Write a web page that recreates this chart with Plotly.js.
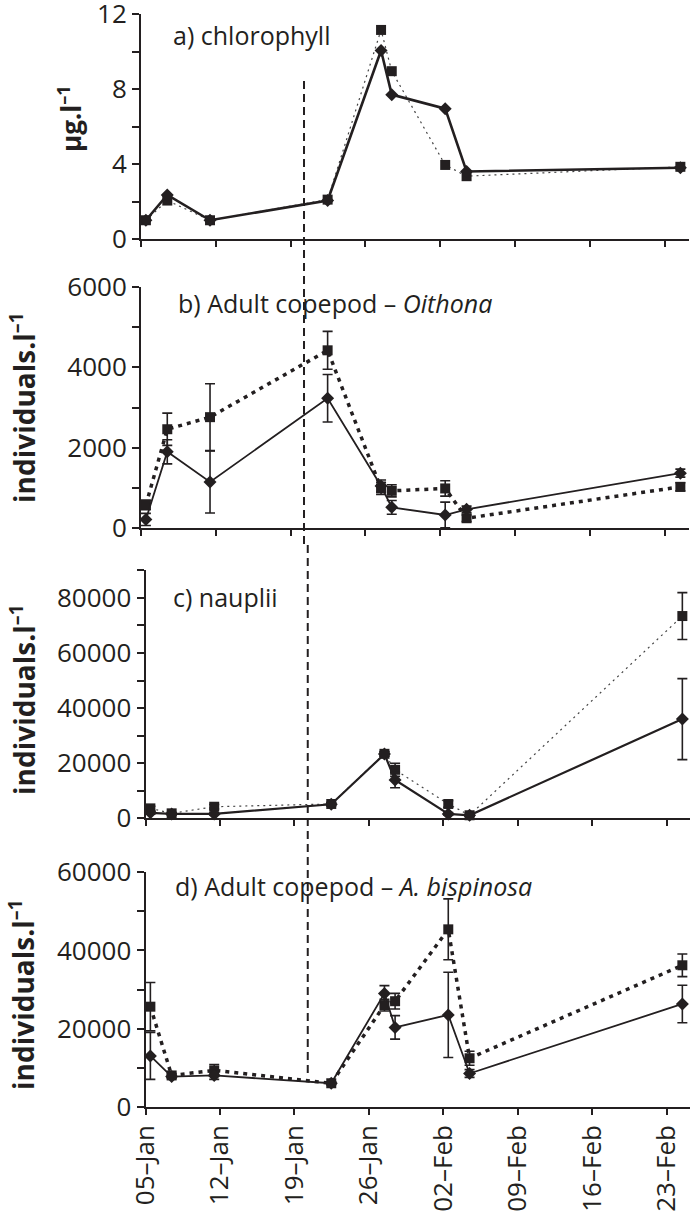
<!DOCTYPE html>
<html>
<head>
<meta charset="utf-8">
<script src="https://cdn.plot.ly/plotly-3.0.1.min.js"></script>
<style>html,body{margin:0;padding:0;background:#fff;}#chart{width:690px;height:1211px;}</style>
</head>
<body>
<div id="chart"></div>
<script>
// ---- data ----
const sampleDates = ['2013-01-05','2013-01-07','2013-01-11','2013-01-22','2013-01-27','2013-01-28','2013-02-02','2013-02-04','2013-02-24'];
const tickDates = ['2013-01-05','2013-01-12','2013-01-19','2013-01-26','2013-02-02','2013-02-09','2013-02-16','2013-02-23'];
const tickLabels = ['05–Jan','12–Jan','19–Jan','26–Jan','02–Feb','09–Feb','16–Feb','23–Feb'];
const eventDate = '2013-01-19 19:00';

const chlDiamond = [1.0, 2.35, 1.0, 2.05, 10.05, 7.7, 6.95, 3.6, 3.8];
const chlSquare  = [1.0, 2.05, 1.0, 2.1, 11.15, 8.95, 3.95, 3.35, 3.85];

const oitDiamond    = [220, 1900, 1150, 3230, 1050, 520, 330, 470, 1370];
const oitDiamondErr = [150, 300, 770, 590, 150, 170, 320, 80, 100];
const oitSquare     = [580, 2460, 2760, 4420, 990, 930, 990, 250, 1030];
const oitSquareErr  = [120, 400, 830, 470, 150, 150, 190, 80, 100];

const naupDiamond    = [2000, 1600, 1600, 5100, 23300, 13900, 1600, 1100, 36000];
const naupDiamondErr = [500, 300, 300, 600, 800, 2800, 500, 300, 14700];
const naupSquare     = [3600, 1800, 4200, 5200, 23400, 17600, 5200, 1100, 73400];
const naupSquareErr  = [800, 400, 800, 500, 800, 2400, 1200, 300, 8500];

const bisDiamond    = [13000, 7700, 8000, 6000, 29000, 20300, 23500, 8500, 26300];
const bisDiamondErr = [6000, 500, 1000, 300, 2000, 3000, 10900, 1000, 4800];
const bisSquare     = [25600, 8000, 9300, 6000, 26000, 27000, 45400, 12400, 36200];
const bisSquareErr  = [6200, 500, 1500, 400, 1500, 2000, 7800, 1800, 2900];

// ---- styling helpers ----
const W = 690, H = 1211;
const INK = '#231f20';
const FONT = 'Open Sans';
// tick marks sit ~0.45 day before the sample-date positions (Excel date axis look)
function shiftDate(d, hours) { const t = new Date(d + 'T00:00:00Z'); t.setUTCHours(t.getUTCHours() + hours); return t.toISOString().slice(0,16).replace('T',' '); }
const tickPos = tickDates.map(d => shiftDate(d, -11));

function xax(leftPx, rightPx, rangeEnd, anchor, labels) {
  return {
    type: 'date', domain: [leftPx / W, rightPx / W], anchor: anchor,
    range: [shiftDate('2013-01-05', -11), rangeEnd],
    tickmode: 'array', tickvals: tickPos, ticktext: tickLabels,
    ticks: 'outside', ticklen: 6, tickwidth: 2, tickcolor: INK,
    showline: true, linewidth: 2, linecolor: INK,
    showgrid: false, zeroline: false,
    showticklabels: labels, tickangle: -90, ticklabeloverflow: 'allow',
    tickfont: { family: FONT, size: 26, color: INK }
  };
}
function yax(topPx, bottomPx, range, tickvals, minorDtick, anchor) {
  return {
    domain: [1 - bottomPx / H, 1 - topPx / H], anchor: anchor, range: range,
    tickmode: 'array', tickvals: tickvals, tickformat: 'd',
    ticks: 'outside', ticklen: 7, tickwidth: 2, tickcolor: INK,
    minor: { dtick: minorDtick, ticks: 'outside', ticklen: 7, tickwidth: 2, tickcolor: INK, showgrid: false },
    showline: true, linewidth: 2, linecolor: INK,
    showgrid: false, zeroline: false, ticklabeloverflow: 'allow',
    tickfont: { family: FONT, size: 26, color: INK }
  };
}
function series(xa, ya, y, err, symbol, line) {
  const t = {
    x: sampleDates, y: y, xaxis: xa, yaxis: ya, type: 'scatter', mode: 'lines+markers',
    marker: { symbol: symbol, size: 10, color: INK },
    line: line, cliponaxis: false, hoverinfo: 'skip'
  };
  if (err) t.error_y = { type: 'data', array: err, visible: true, thickness: 1.6, width: 5, color: INK };
  return t;
}

const thinDot = { color: '#444', width: 1.2, dash: '2px,4px' };
const thickDot = { color: INK, width: 3.5, dash: '4px,5px' };

const data = [
  series('x', 'y', chlSquare, null, 'square', thinDot),
  series('x', 'y', chlDiamond, null, 'diamond', { color: INK, width: 2.6 }),
  series('x2', 'y2', oitSquare, oitSquareErr, 'square', thickDot),
  series('x2', 'y2', oitDiamond, oitDiamondErr, 'diamond', { color: INK, width: 1.8 }),
  series('x3', 'y3', naupSquare, naupSquareErr, 'square', thinDot),
  series('x3', 'y3', naupDiamond, naupDiamondErr, 'diamond', { color: INK, width: 2.2 }),
  series('x4', 'y4', bisSquare, bisSquareErr, 'square', thickDot),
  series('x4', 'y4', bisDiamond, bisDiamondErr, 'diamond', { color: INK, width: 1.8 })
];

function ann(text, xPx, yPx, size, opts) {
  return Object.assign({
    text: text, xref: 'paper', yref: 'paper', x: xPx / W, y: 1 - yPx / H,
    xanchor: 'left', yanchor: 'middle', showarrow: false,
    font: { family: FONT, size: size, color: INK }
  }, opts || {});
}
const rot = { textangle: -90, xanchor: 'center' };

const layout = {
  width: W, height: H, margin: { l: 0, r: 0, t: 0, b: 0 },
  paper_bgcolor: '#fff', plot_bgcolor: 'rgba(0,0,0,0)', showlegend: false,
  font: { family: FONT, color: INK },
  xaxis:  xax(141, 689, '2013-02-24 19:24', 'y', false),
  xaxis2: xax(141, 689, '2013-02-24 19:24', 'y2', false),
  xaxis3: xax(145.5, 690, '2013-02-24 17:15', 'y3', false),
  xaxis4: xax(145.5, 690, '2013-02-24 17:15', 'y4', true),
  yaxis:  yax(14, 239, [0, 12], [0, 4, 8, 12], 2, 'x'),
  yaxis2: yax(286.7, 528.3, [0, 6000], [0, 2000, 4000, 6000], 1000, 'x2'),
  yaxis3: yax(570.3, 818.3, [0, 90000], [0, 20000, 40000, 60000, 80000], 10000, 'x3'),
  yaxis4: yax(872.3, 1106.7, [0, 60000], [0, 20000, 40000, 60000], 10000, 'x4'),
  annotations: [
    ann('a) chlorophyll', 171, 35, 25),
    ann('b) Adult copepod – <i>Oithona</i>', 176, 303, 25),
    ann('c) nauplii', 171, 597, 25),
    ann('d) Adult copepod – <i>A. bispinosa</i>', 173, 886, 25),
    ann('<b>µg.l<sup>–1</sup></b>', 70, 119, 26, rot),
    ann('<b>individuals.l<sup>–1</sup></b>', 22, 408, 28, rot),
    ann('<b>individuals.l<sup>–1</sup></b>', 22, 700, 28, rot),
    ann('<b>individuals.l<sup>–1</sup></b>', 22, 995, 28, rot)
  ],
  shapes: [
    { type: 'line', xref: 'x', yref: 'paper', x0: eventDate, x1: eventDate, y0: 1 - 81 / H, y1: 1 - 545 / H,
      line: { color: INK, width: 2, dash: '8px,5px' } },
    { type: 'line', xref: 'x3', yref: 'paper', x0: eventDate, x1: eventDate, y0: 1 - 545 / H, y1: 1 - 1077 / H,
      line: { color: INK, width: 2, dash: '8px,5px' } }
  ]
};

Plotly.newPlot('chart', data, layout, { staticPlot: true, displayModeBar: false });
</script>
</body>
</html>
